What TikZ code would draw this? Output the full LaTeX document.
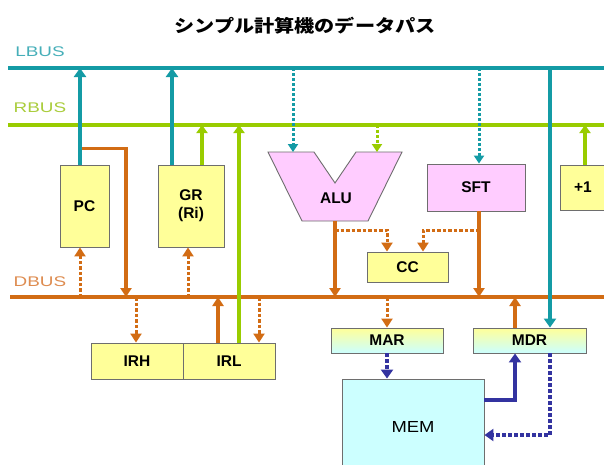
\documentclass[tikz,border=0pt]{standalone}
\usepackage{fontspec}
\setmainfont{Liberation Sans}
\newfontfamily\cjk{Noto Sans CJK JP}
\usetikzlibrary{arrows.meta,calc}
\definecolor{tealc}{RGB}{20,155,165}
\definecolor{teallab}{RGB}{70,175,185}
\definecolor{greenc}{RGB}{153,204,0}
\definecolor{greenlab}{RGB}{170,205,60}
\definecolor{orangec}{RGB}{210,108,20}
\definecolor{orangelab}{RGB}{222,140,80}
\definecolor{navyc}{RGB}{51,51,160}
\definecolor{boxy}{RGB}{255,255,153}
\definecolor{boxp}{RGB}{255,204,255}
\definecolor{boxc}{RGB}{204,255,255}
\definecolor{edge}{RGB}{110,110,110}
\begin{document}
\begin{tikzpicture}[x=1pt,y=-1pt,
 box/.style={draw=edge, line width=0.9pt, fill=boxy, inner sep=0pt, align=center, font=\bfseries\fontsize{15.5}{18}\selectfont},
 pbox/.style={box, fill=boxp},
 gbox/.style={box, top color=boxy, bottom color=boxc},
 mbox/.style={draw=edge, line width=0.9pt, fill=boxc, inner sep=0pt, font=\fontsize{16}{18}\selectfont},
 buslab/.style={font=\fontsize{14}{14}\selectfont},
 tl/.style={draw=tealc, line width=4pt, -{Triangle[width=12pt,length=9pt]}},
 tdot/.style={draw=tealc, line width=3pt, dash pattern=on 3pt off 2pt, -{Triangle[width=10pt,length=8pt]}},
 gl/.style={draw=greenc, line width=3.5pt, -{Triangle[width=11pt,length=8pt]}},
 gdot/.style={draw=greenc, line width=3pt, dash pattern=on 3pt off 2pt, -{Triangle[width=10pt,length=8pt]}},
 ol/.style={draw=orangec, line width=3.5pt, -{Triangle[width=11pt,length=9pt]}},
 odot/.style={draw=orangec, line width=3pt, dash pattern=on 3.5pt off 2pt, -{Triangle[width=11pt,length=9pt]}},
 nl/.style={draw=navyc, line width=4pt, -{Triangle[width=12pt,length=9pt]}},
 ndot/.style={draw=navyc, line width=3.5pt, dash pattern=on 3.5pt off 2.5pt, -{Triangle[width=12pt,length=9pt]}},
]
\useasboundingbox[fill=white] (0,0) rectangle (604,464);

% title and bus labels
\node[font=\cjk\bfseries\fontsize{17.5}{18}\selectfont] (title) at (305,26) {\scalebox{1.15}[1]{シンプル計算機のデータパス}};
\node[buslab, text=teallab] (lbl) at (40,52) {\scalebox{1.35}[1]{LBUS}};
\node[buslab, text=greenlab] (rbl) at (40,108) {\scalebox{1.35}[1]{RBUS}};
\node[buslab, text=orangelab] (dbl) at (40,282) {\scalebox{1.35}[1]{DBUS}};

% buses
\coordinate (lb) at (8,68);
\coordinate (lbe) at (606,68);
\coordinate (rb) at (8,125);
\coordinate (rbe) at (606,125);
\coordinate (db) at (10,297);
\coordinate (dbe) at (606,297);
\draw[tealc, line width=4pt] (lb) -- (lbe);
\draw[greenc, line width=4.5pt] (rb) -- (rbe);
\draw[orangec, line width=4pt] (db) -- (dbe);

% units
\node[box, minimum width=49pt, minimum height=82pt] (pc) at (84.5,206) {PC};
\node[box, minimum width=66pt, minimum height=82pt] (gr) at (191,206) {GR\\(Ri)};
\coordinate (alut) at (335,152);
\coordinate (alub) at (335,221);
\draw[draw=edge, line width=0.9pt, fill=boxp] (268,152) -- (314,152) -- (335,183) -- (356,152) -- (402,152) -- (368,221) -- (302,221) -- cycle;
\node[font=\bfseries\fontsize{15.5}{18}\selectfont] (alu) at (336,198) {ALU};
\node[pbox, minimum width=98pt, minimum height=47pt] (sft) at (476,187.5) {SFT};
\node[box, minimum width=46pt, minimum height=45pt] (one) at (583,187.5) {+1};
\node[box, minimum width=81pt, minimum height=30pt] (cc) at (407.5,267) {CC};
\node[box, minimum width=92pt, minimum height=36pt] (irh) at (137,361) {IRH};
\node[box, minimum width=92pt, minimum height=36pt] (irl) at (229,361) {IRL};
\node[gbox, minimum width=112pt, minimum height=25pt] (mar) at (387,340.5) {MAR};
\node[gbox, minimum width=113pt, minimum height=25pt] (mdr) at (529.5,340.5) {MDR};
\node[mbox, minimum width=142pt, minimum height=96pt] (mem) at (413,427) {\scalebox{1.15}[1]{MEM}};

% orange connectors (DBUS)
\path ($(pc.north)+(-4.5,-16)$) coordinate (pco);
\path ($(pc.north)+(41.5,-16)$) coordinate (pcc);
\draw[ol] (pco) -- (pcc) -- (pcc |- db);
\path ($(pc.south)+(-4.5,0)$) coordinate (p2);
\draw[odot] (p2 |- db) -- (p2);
\path ($(gr.south)+(-3,0)$) coordinate (g2);
\draw[odot] (g2 |- db) -- (g2);
\path ($(irh.north)+(-1,0)$) coordinate (h1);
\draw[odot] (h1 |- db) -- (h1);
\path ($(irl.north)+(-11,0)$) coordinate (l1);
\draw[ol] (l1) -- (l1 |- db);
\path ($(irl.north)+(30,0)$) coordinate (l3);
\draw[odot] (l3 |- db) -- (l3);
\draw[ol] (alub) -- (alub |- db);
\path ($(alub)+(0,9)$) coordinate (a9);
\path ($(cc.north)+(-20.5,0)$) coordinate (c1);
\draw[odot] (a9) -| (c1);
\path ($(sft.south)+(3,0)$) coordinate (s2);
\draw[ol] (s2) -- (s2 |- db);
\path ($(cc.north)+(15.5,0)$) coordinate (c2);
\draw[odot] (s2 |- a9) -| (c2);
\draw[odot] (mar.north |- db) -- (mar.north);
\path ($(mdr.north)+(-14.5,0)$) coordinate (d1);
\draw[ol] (d1) -- (d1 |- db);

% green connectors (RBUS)
\path ($(gr.north)+(11,0)$) coordinate (g1);
\draw[gl] (g1) -- (g1 |- rb);
\path ($(irl.north)+(10,0)$) coordinate (l2);
\draw[gl] (l2) -- (l2 |- rb);
\path ($(alut)+(42,0)$) coordinate (a2);
\draw[gdot] (a2 |- rb) -- (a2);
\path ($(one.north)+(2,0)$) coordinate (o1);
\draw[gl] (o1) -- (o1 |- rb);

% teal connectors (LBUS)
\path ($(pc.north)+(-4.5,0)$) coordinate (p1);
\draw[tl] (p1) -- (p1 |- lb);
\path ($(gr.north)+(-19,0)$) coordinate (g0);
\draw[tl] (g0) -- (g0 |- lb);
\path ($(alut)+(-42,0)$) coordinate (a1);
\draw[tdot] (a1 |- lb) -- (a1);
\path ($(sft.north)+(3,0)$) coordinate (s1);
\draw[tdot] (s1 |- lb) -- (s1);
\path ($(mdr.north)+(20.5,0)$) coordinate (d2);
\draw[tl] (d2 |- lb) -- (d2);

% navy connectors (memory)
\draw[ndot] (mar.south) -- (mar.south |- mem.north);
\path ($(mdr.south)+(-14.5,0)$) coordinate (d3);
\path ($(mem.east)+(0,-27)$) coordinate (m1);
\draw[nl] (m1) -| (d3);
\path ($(mdr.south)+(20.5,0)$) coordinate (d4);
\path ($(mem.east)+(0,8)$) coordinate (m2);
\draw[ndot] (d4) |- (m2);
\end{tikzpicture}
\end{document}
